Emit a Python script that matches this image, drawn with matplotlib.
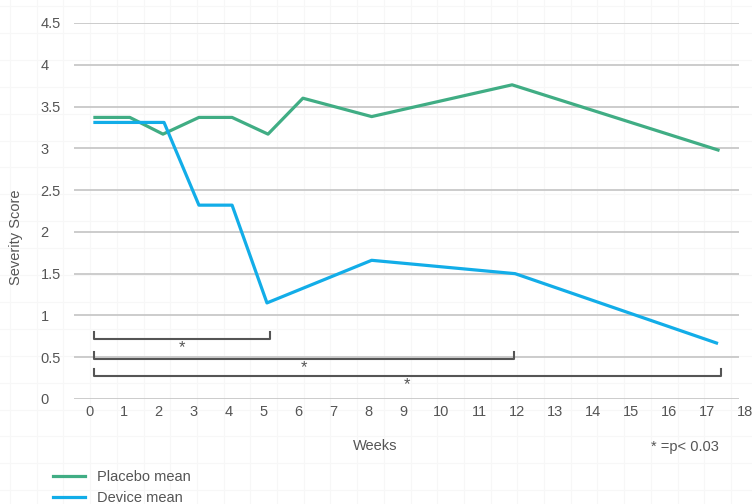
import numpy as np
import matplotlib.pyplot as plt
from matplotlib import rc

rc('font', **{'family': 'sans-serif', 'sans-serif': ['Liberation Sans'], 'size': 10.5})

# data
weeks_placebo = [0.17, 1.17, 2.12, 3.15, 4.1, 5.13, 6.13, 8.1, 11.87, 17.29]
placebo_mean = [3.37, 3.37, 3.17, 3.37, 3.37, 3.17, 3.6, 3.38, 3.76, 2.98]
weeks_device = [0.17, 1.17, 2.15, 3.15, 4.1, 5.1, 8.1, 11.95, 17.25]
device_mean = [3.31, 3.31, 3.31, 2.32, 2.32, 1.15, 1.66, 1.5, 0.67]

# significance brackets: start week, end week, height
br_start = [0.14, 0.14, 0.14]
br_end = [5.19, 11.92, 17.37]
br_y = [0.72, 0.48, 0.275]

xticks = list(range(0, 19))
yticks = [0, 0.5, 1, 1.5, 2, 2.5, 3, 3.5, 4, 4.5]
ylabels = ['0', '0.5', '1', '1.5', '2', '2.5', '3', '3.5', '4', '4.5']

green = '#40ad84'
blue = '#12ade8'
grey = '#555555'

fig = plt.figure(figsize=(7.52, 5.04), dpi=100)

# faint paper grid behind everything
bg = fig.add_axes([0, 0, 1, 1], zorder=-1)
bg.set_xlim(0, 752)
bg.set_ylim(504, 0)
bg.set_xticks(np.arange(10, 752, 26.7))
bg.set_yticks(np.arange(6, 504, 26.9))
bg.grid(True, color='#f7f7f7', lw=0.8)
bg.tick_params(length=0, labelbottom=False, labelleft=False)
for s in bg.spines.values():
    s.set_visible(False)


# tick labels on the original are not evenly spaced: two linear pieces
def fwd(x):
    x = np.asarray(x, dtype=float)
    return np.where(x <= 9, x * 34.9, 9 * 34.9 + (x - 9) * 38.0)


def inv(u):
    u = np.asarray(u, dtype=float)
    return np.where(u <= 9 * 34.9, u / 34.9, 9 + (u - 9 * 34.9) / 38.0)


ax = fig.add_axes([74 / 752, 1 - 399 / 504, 671 / 752, 376 / 504])
ax.set_facecolor('none')
ax.set_xscale('function', functions=(fwd, inv))
ax.set_xlim(-0.43, 18)
ax.set_ylim(0, 4.5)
for s in ax.spines.values():
    s.set_visible(False)

ax.hlines(yticks, -0.43, 17.84, color='#c4c4c4', lw=1.2, zorder=1)

ax.set_xticks(xticks)
ax.set_xticklabels([str(t) for t in xticks])
ax.set_yticks(yticks)
ax.set_yticklabels(ylabels)
ax.tick_params(axis='x', length=0, pad=4, colors=grey, labelsize=10.5)
ax.tick_params(axis='y', length=0, pad=24, colors=grey, labelsize=10.5)
for lab in ax.get_yticklabels():
    lab.set_horizontalalignment('left')
ax.xaxis.set_minor_locator(plt.NullLocator())

l1, = ax.plot(weeks_placebo, placebo_mean, color=green, lw=2.3, label='Placebo mean', zorder=3)
l2, = ax.plot(weeks_device, device_mean, color=blue, lw=2.3, label='Device mean', zorder=3)

for x0, x1, y in zip(br_start, br_end, br_y):
    ax.plot([x0, x0, x1, x1], [y + 0.085, y, y, y + 0.085], color=grey, lw=1.5, zorder=2)
    xm = float(inv((fwd(x0) + fwd(x1)) / 2))
    ax.text(xm, y - 0.1, '*', ha='center', va='center', color=grey, fontsize=12)

ax.set_ylabel('Severity Score', color=grey, fontsize=10.5)
ax.yaxis.set_label_coords(-0.076, 0.43)
fig.text(375 / 752, 1 - 446 / 504, 'Weeks', ha='center', va='center', color=grey, fontsize=10.5)
fig.text(685 / 752, 1 - 447 / 504, '* =p< 0.03', ha='center', va='center', color=grey, fontsize=10.5)

leg = fig.legend(handles=[l1, l2], loc='upper left', bbox_to_anchor=(40 / 752, 1 - 457 / 504),
                 frameon=False, handlelength=2.2, handletextpad=0.8, labelspacing=0.45,
                 fontsize=10.5)
for t in leg.get_texts():
    t.set_color(grey)

plt.savefig('out.png', dpi=100)
